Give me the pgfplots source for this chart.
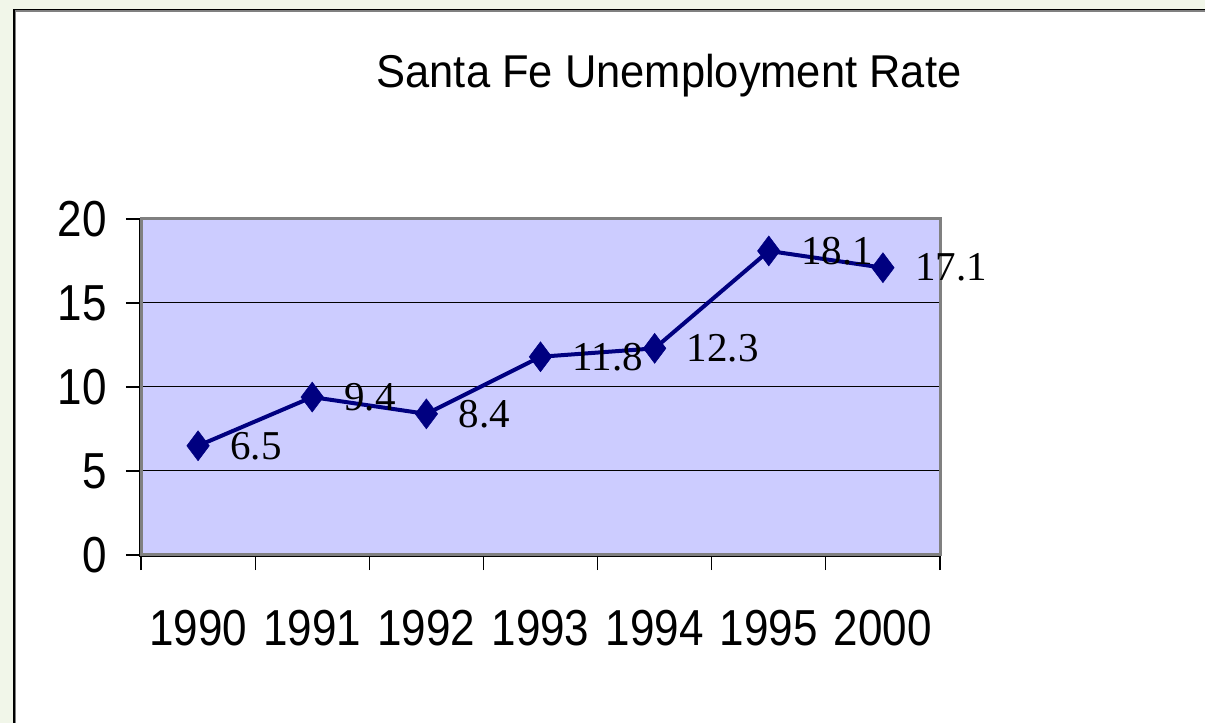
\documentclass[border=0pt]{standalone}
\usepackage{fontspec}
\setmainfont{Liberation Serif}
\newfontfamily\arial{Liberation Sans}
\usepackage{pgfplots}
\pgfplotsset{compat=1.18}
\definecolor{bgc}{RGB}{241,246,233}
\definecolor{plotbg}{RGB}{204,204,255}
\definecolor{navyc}{RGB}{0,0,128}
\definecolor{bordergray}{RGB}{128,128,128}
\newcommand\tl[1]{\scalebox{1}[1.15]{#1}}
\begin{document}
\begin{tikzpicture}[x=1pt,y=1pt]
\useasboundingbox (0,0) rectangle (1205,723);
\fill[bgc] (0,0) rectangle (1205,723);
\fill[white] (14,-5) rectangle (1210,713.5);
\draw[bordergray, line width=1.2pt] (15.8,-5) -- (15.8,712) -- (1210,712);
\draw[black, line width=1.8pt] (14.2,-5) -- (14.2,713.5) -- (1210,713.5);
\node[font=\arial\fontsize{46}{46}\selectfont, inner sep=0pt, anchor=base] at (669,635) {\scalebox{0.945}[1]{Santa Fe Unemployment Rate}};
\begin{axis}[at={(141pt,168pt)}, anchor=south west, width=799pt, height=336pt, scale only axis,
  xmin=-0.5, xmax=6.5, ymin=0, ymax=20, clip=false,
  axis line style={draw=none},
  axis background/.style={fill=plotbg},
  ytick={0,5,10,15,20}, yticklabels={\tl{0},\tl{5},\tl{10},\tl{15},\tl{20}},
  ymajorgrids, grid style={black, line width=1pt},
  xtick={-0.5,0.5,1.5,2.5,3.5,4.5,5.5,6.5}, xticklabels={},
  extra x ticks={0,1,2,3,4,5,6},
  extra x tick labels={\tl{1990},\tl{1991},\tl{1992},\tl{1993},\tl{1994},\tl{1995},\tl{2000}},
  extra x tick style={major tick length=0pt, tick style={draw=none}, grid=none},
  tick align=outside, major tick length=15pt,
  xtick pos=left, ytick pos=left,
  tick style={black, line width=1.2pt},
  ticklabel style={font=\arial\fontsize{44}{44}\selectfont},
  yticklabel style={anchor=east, inner sep=0pt, xshift=-19pt},
  xticklabel style={anchor=north, inner sep=0pt, yshift=-55pt},
]
\addplot[navyc, line width=4pt, mark=diamond*, mark size=15pt,
  mark options={solid, fill=navyc, draw=navyc, line width=0.5pt},
  nodes near coords, point meta=explicit symbolic,
  nodes near coords style={anchor=west, inner sep=0pt, xshift=32pt, text=black, font=\fontsize{41}{41}\selectfont}]
  coordinates {(0,6.5)[6.5] (1,9.4)[9.4] (2,8.4)[8.4] (3,11.8)[11.8] (4,12.3)[12.3] (5,18.1)[18.1] (6,17.1)[17.1]};
\draw[bordergray, line width=3pt] (rel axis cs:0,0) rectangle (rel axis cs:1,1);
\draw[black, line width=1.2pt] ([xshift=-1.5pt]rel axis cs:0,1) -- ([xshift=-1.5pt,yshift=-1.5pt]rel axis cs:0,0) -- ([yshift=-1.5pt]rel axis cs:1,0);
\end{axis}
\end{tikzpicture}
\end{document}
